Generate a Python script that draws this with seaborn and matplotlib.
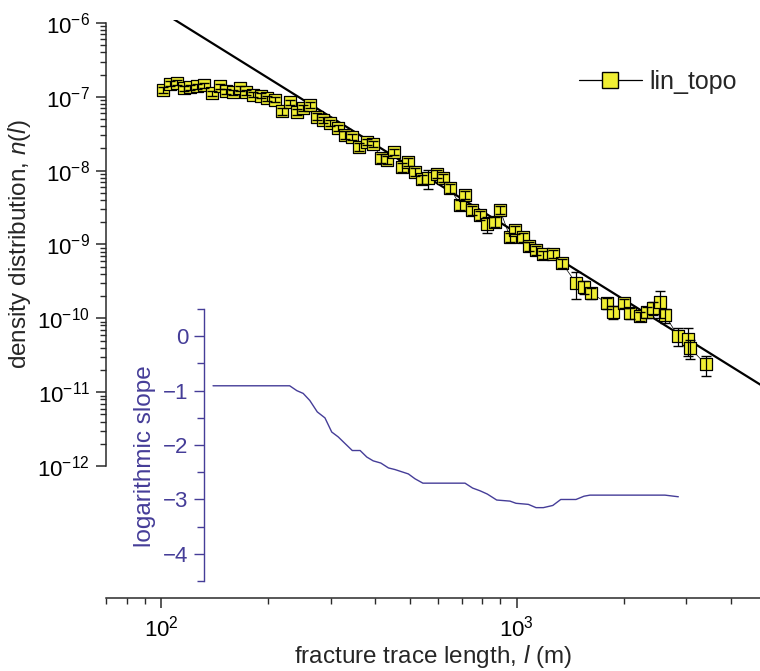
import numpy as np
import pandas as pd
import matplotlib
matplotlib.use("Agg")
import matplotlib.pyplot as plt
import matplotlib.ticker as mticker
from matplotlib.lines import Line2D
import seaborn as sns

# ---------------- data ----------------
trace_length = [101.3, 106.0, 110.9, 116.0, 120.6, 126.3, 132.1, 139.1, 146.5, 152.3,
                159.4, 166.8, 173.4, 181.4, 191.1, 198.7, 209.2, 218.9, 230.6, 241.3,
                250.8, 262.4, 274.6, 285.5, 298.8, 314.6, 329.2, 344.5, 360.5, 379.7,
                394.8, 415.7, 432.1, 452.2, 476.2, 495.0, 518.0, 542.0, 563.5, 597.4,
                620.9, 649.7, 693.2, 716.1, 749.3, 789.0, 825.6, 869.5, 898.1, 958.1,
                989.7, 1042, 1084, 1134, 1186, 1266, 1342, 1469, 1547, 1619,
                1796, 1867, 2005, 2084, 2223, 2327, 2419, 2531, 2614, 2844,
                3034, 3073, 3410]
density = [1.237e-7, 1.515e-7, 1.553e-7, 1.317e-7, 1.358e-7, 1.402e-7, 1.446e-7, 1.127e-7, 1.402e-7, 1.199e-7,
           1.162e-7, 1.297e-7, 1.162e-7, 1.075e-7, 1.042e-7, 9.64e-8, 9.20e-8, 6.33e-8, 8.51e-8, 6.23e-8,
           7.06e-8, 7.75e-8, 5.41e-8, 4.86e-8, 4.42e-8, 3.78e-8, 3.04e-8, 2.86e-8, 2.09e-8, 2.44e-8,
           2.30e-8, 1.48e-8, 1.39e-8, 1.79e-8, 1.12e-8, 1.31e-8, 9.59e-9, 7.71e-9, 7.95e-9, 9.01e-9,
           7.95e-9, 5.82e-9, 3.43e-9, 4.68e-9, 2.93e-9, 2.51e-9, 1.89e-9, 2.02e-9, 2.93e-9, 1.26e-9,
           1.57e-9, 1.26e-9, 9.54e-10, 8.42e-10, 7.32e-10, 7.55e-10, 5.61e-10, 3.01e-10, 2.66e-10, 2.20e-10,
           1.61e-10, 1.22e-10, 1.61e-10, 1.18e-10, 1.07e-10, 1.22e-10, 1.38e-10, 1.66e-10, 1.11e-10, 5.76e-11,
           5.25e-11, 3.96e-11, 2.37e-11]
rel_error = [0.10, 0.08, 0.08, 0.08, 0.08, 0.08, 0.08, 0.08, 0.08, 0.08,
             0.08, 0.08, 0.08, 0.08, 0.08, 0.08, 0.08, 0.10, 0.08, 0.10,
             0.10, 0.10, 0.10, 0.10, 0.10, 0.10, 0.12, 0.10, 0.12, 0.10,
             0.10, 0.15, 0.12, 0.10, 0.15, 0.12, 0.12, 0.15, 0.30, 0.12,
             0.12, 0.15, 0.15, 0.12, 0.15, 0.15, 0.25, 0.15, 0.12, 0.15,
             0.12, 0.15, 0.15, 0.15, 0.12, 0.12, 0.15, 0.40, 0.20, 0.18,
             0.18, 0.20, 0.15, 0.18, 0.15, 0.18, 0.20, 0.40, 0.22, 0.27,
             0.42, 0.30, 0.30]

slope_length = [140, 230, 241, 251, 262, 275, 289, 302, 315, 329,
                345, 363, 379, 395, 415, 436, 455, 475, 496, 518,
                545, 716, 752, 789, 827, 879, 958, 996, 1079, 1134,
                1189, 1264, 1331, 1469, 1547, 1608, 2614, 2850]
slope_value = [-0.91, -0.91, -1.00, -1.05, -1.18, -1.39, -1.50, -1.76, -1.85, -1.97,
               -2.10, -2.10, -2.22, -2.29, -2.33, -2.42, -2.45, -2.49, -2.53, -2.62,
               -2.70, -2.70, -2.79, -2.84, -2.90, -3.01, -3.03, -3.07, -3.09, -3.15,
               -3.15, -3.11, -3.00, -3.00, -2.94, -2.92, -2.92, -2.95]

fit_coeff = 1.44
fit_exponent = -3.0
fit_range = [70, 5000]

series_name = "lin_topo"
y_major = [1e-12, 1e-11, 1e-10, 1e-9, 1e-8, 1e-7, 1e-6]
slope_major = [0, -1, -2, -3, -4]
slope_minor = [0.5, -0.5, -1.5, -2.5, -3.5, -4.5]

# ---------------- style ----------------
sns.set_theme(style="ticks")
plt.rcParams["font.family"] = ["Liberation Sans", "DejaVu Sans"]
plt.rcParams["mathtext.fontset"] = "custom"
plt.rcParams["mathtext.rm"] = "Liberation Sans"
plt.rcParams["mathtext.it"] = "Liberation Sans:italic"
plt.rcParams["mathtext.default"] = "regular"
plt.rcParams["axes.unicode_minus"] = True

yellow = "#F0EE33"
purple = "#453D98"
axis_col = "#2a2a2a"
tick_fs = 16
label_fs = 17.5

fig = plt.figure(figsize=(7.6, 6.71), dpi=100)
rect = [106 / 760, 73 / 671, 654 / 760, 578 / 671]
ax = fig.add_axes(rect)
ax.set_xscale("log")
ax.set_yscale("log")
ax.set_xlim(70, 4837)
ax.set_ylim(10 ** -13.788, 10 ** -5.9594)

df = pd.DataFrame({"l": trace_length, "n": density, "err": rel_error})
df["sigma"] = df["n"] * df["err"]

fit_df = pd.DataFrame({"l": fit_range})
fit_df["n"] = fit_coeff * fit_df["l"] ** fit_exponent

sns.lineplot(data=fit_df, x="l", y="n", ax=ax, color="black", lw=1.6, zorder=2)
sns.lineplot(data=df, x="l", y="n", ax=ax, color="black", lw=0.5, sort=False,
             estimator=None, zorder=2.5)
sns.scatterplot(data=df, x="l", y="n", ax=ax, marker="s", s=85, color=yellow,
                edgecolor="black", linewidth=0.9, zorder=3)
ax.errorbar(df["l"], df["n"], yerr=df["sigma"], fmt="none", ecolor="black",
            elinewidth=0.9, capsize=3.5, capthick=1.0, zorder=4)

for s in ["top", "right"]:
    ax.spines[s].set_visible(False)
for s in ["left", "bottom"]:
    ax.spines[s].set_color(axis_col)
    ax.spines[s].set_linewidth(1.1)
ax.spines["left"].set_bounds(1e-12, 1e-6)

ax.yaxis.set_major_locator(mticker.FixedLocator(y_major))
ax.yaxis.set_minor_locator(mticker.FixedLocator(
    [m * 10.0 ** e for e in range(-12, -6) for m in range(2, 10)]))
ax.yaxis.set_major_formatter(mticker.LogFormatterSciNotation())
ax.yaxis.set_minor_formatter(mticker.NullFormatter())
ax.xaxis.set_major_locator(mticker.LogLocator(base=10, numticks=10))
ax.xaxis.set_minor_locator(mticker.LogLocator(base=10, subs=np.arange(2, 10), numticks=50))
ax.xaxis.set_minor_formatter(mticker.NullFormatter())
ax.tick_params(axis="both", which="major", direction="out", length=7.5, width=1.1,
               color=axis_col, labelcolor="black", labelsize=tick_fs, pad=5)
ax.tick_params(axis="both", which="minor", direction="out", length=4, width=1.0,
               color=axis_col)
ax.tick_params(axis="y", which="major", pad=4)

ax.set_xlabel(r"fracture trace length, $\mathit{l}$ (m)", fontsize=label_fs, labelpad=1)
ax.set_ylabel(r"density distribution, $\mathit{n}$($\mathit{l}$)", fontsize=label_fs)
ax.yaxis.set_label_coords(-0.112, 0.6125)

handle = Line2D([], [], color="black", lw=0.9, marker="s", markersize=11,
                markerfacecolor=yellow, markeredgecolor="black", markeredgewidth=1.0)
ax.legend([handle], [series_name], loc="center left", frameon=False,
          bbox_to_anchor=((579 - 106) / 654, (598 - 82) / 578), fontsize=18,
          handlelength=2.5, handletextpad=0.3, borderpad=0, borderaxespad=0)

# ---------------- slope overlay ----------------
ax2 = fig.add_axes(rect)
ax2.patch.set_visible(False)
ax2.set_xscale("log")
ax2.set_xlim(70, 4837)
ax2.set_ylim(-4.811, 5.814)
sns.lineplot(x=slope_length, y=slope_value, ax=ax2, color=purple, lw=1.0,
             sort=False, estimator=None)
for s in ["top", "right", "bottom"]:
    ax2.spines[s].set_visible(False)
ax2.spines["left"].set_position(("data", 132))
ax2.spines["left"].set_bounds(-4.5, 0.5)
ax2.spines["left"].set_color(purple)
ax2.spines["left"].set_linewidth(1.0)
ax2.xaxis.set_visible(False)
ax2.yaxis.set_major_locator(mticker.FixedLocator(slope_major))
ax2.yaxis.set_minor_locator(mticker.FixedLocator(slope_minor))
ax2.yaxis.set_major_formatter(mticker.FuncFormatter(lambda v, p: f"{int(v)}".replace("-", "\u2212")))
ax2.tick_params(axis="y", which="major", direction="out", length=7, width=1.0,
                color=purple, labelcolor=purple, labelsize=tick_fs, pad=4)
ax2.tick_params(axis="y", which="minor", direction="out", length=5, width=1.0,
                color=purple)
ax2.set_ylabel("logarithmic slope", fontsize=label_fs, color=purple)
ax2.yaxis.set_label_coords((156 - 106) / 654, (598 - 456) / 578)

fig.savefig("out.png", dpi=100)
